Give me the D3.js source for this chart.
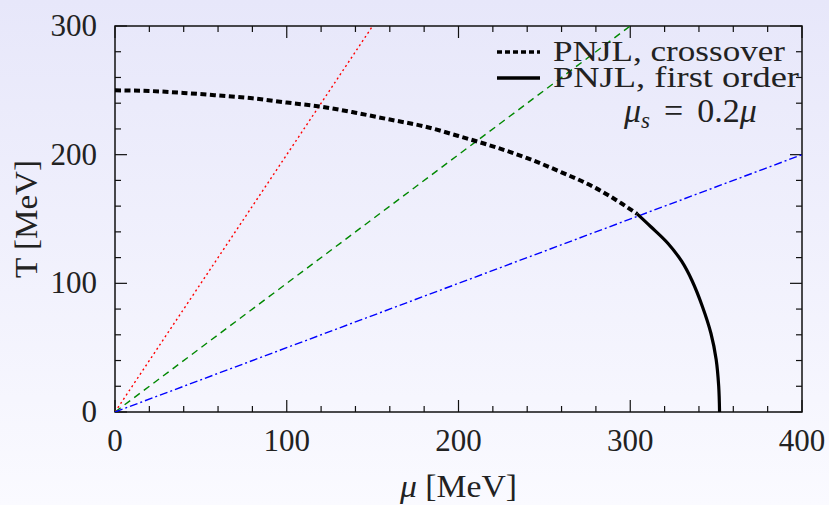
<!DOCTYPE html>
<html><head><meta charset="utf-8">
<script src="https://cdn.jsdelivr.net/npm/d3@7"></script>
<style>
html,body{margin:0;padding:0;}
svg{display:block;}
text{font-family:"Liberation Serif","DejaVu Serif",serif;fill:#222;}
</style></head>
<body>
<script>
// ---- data ----
const crossover = [[0,250],[20,249.5],[40,248],[60,246],[80,243.8],[100,240.5],[120,237.3],[140,232.6],[160,227.3],[180,222],[200,214.5],[220,206.5],[240,197.3],[260,186.3],[280,174],[295,162],[304,154]];
const firstOrder = [[304,154],[312,144],[322,131],[330,117],[336,102],[342,82],[347,61],[350,41],[351.5,20],[352,0]];
const redSlope = 2, greenSlope = 1, blueSlope = 0.5; // T = slope * mu
const xTicks = [0,100,200,300,400];
const yTicks = [0,100,200,300];
const legendLabels = ["PNJL, crossover","PNJL, first order"];

const W=829,H=505;
const m={l:115,r:27,t:26,b:93};
const svg=d3.select("body").append("svg").attr("width",W).attr("height",H);
const defs=svg.append("defs");
const g=defs.append("linearGradient").attr("id","bg").attr("x1",0).attr("y1",0).attr("x2",0).attr("y2",1);
g.append("stop").attr("offset","0%").attr("stop-color","#e7e7fa");
g.append("stop").attr("offset","100%").attr("stop-color","#fafaff");
svg.append("rect").attr("width",W).attr("height",H).attr("fill","url(#bg)");
defs.append("clipPath").attr("id","clip").append("rect")
  .attr("x",m.l).attr("y",m.t).attr("width",W-m.l-m.r).attr("height",H-m.t-m.b);

const x=d3.scaleLinear().domain([0,400]).range([m.l,W-m.r]);
const y=d3.scaleLinear().domain([0,300]).range([H-m.b,m.t]);

// ticks
const minorX=d3.range(0,401,20), minorY=d3.range(0,301,20);
const tk=svg.append("g").attr("stroke","#111").attr("stroke-width",1.2);
minorX.forEach(v=>{
  const L = v%100===0?12:6;
  tk.append("line").attr("x1",x(v)).attr("x2",x(v)).attr("y1",y(0)).attr("y2",y(0)-L);
  tk.append("line").attr("x1",x(v)).attr("x2",x(v)).attr("y1",y(300)).attr("y2",y(300)+L);
});
minorY.forEach(v=>{
  const L = v%100===0?12:6;
  tk.append("line").attr("y1",y(v)).attr("y2",y(v)).attr("x1",x(0)).attr("x2",x(0)+L);
  tk.append("line").attr("y1",y(v)).attr("y2",y(v)).attr("x1",x(400)).attr("x2",x(400)-L);
});
svg.append("rect").attr("x",m.l).attr("y",m.t).attr("width",W-m.l-m.r).attr("height",H-m.t-m.b)
  .attr("fill","none").attr("stroke","#111").attr("stroke-width",1.5);

// tick labels
svg.selectAll(".xl").data(xTicks).enter().append("text")
  .attr("x",d=>x(d)).attr("y",y(0)+39).attr("text-anchor","middle").attr("font-size",31)
  .attr("textLength",d=>String(d).length*15.5).attr("lengthAdjust","spacingAndGlyphs").text(d=>d);
svg.selectAll(".yl").data(yTicks).enter().append("text")
  .attr("x",x(0)-18).attr("y",d=>y(d)+10).attr("text-anchor","end").attr("font-size",31)
  .attr("textLength",d=>String(d).length*15.5).attr("lengthAdjust","spacingAndGlyphs").text(d=>d);

// axis titles
svg.append("text").attr("transform",`translate(37,${(y(0)+y(300))/2}) rotate(-90)`)
  .attr("text-anchor","middle").attr("font-size",31)
  .attr("textLength",118).attr("lengthAdjust","spacingAndGlyphs").text("T [MeV]");
const xt=svg.append("text").attr("x",(x(0)+x(400))/2).attr("y",497).attr("text-anchor","middle").attr("font-size",31)
  .attr("textLength",117).attr("lengthAdjust","spacingAndGlyphs");
xt.append("tspan").attr("font-style","italic").text("μ");
xt.append("tspan").text(" [MeV]");

// lines
const plot=svg.append("g").attr("clip-path","url(#clip)");
const line=d3.line().x(d=>x(d[0])).y(d=>y(d[1]));
const diag=s=>[[0,0],[400,400*s]];
plot.append("path").attr("d",line(diag(redSlope))).attr("fill","none").attr("stroke","#ff0000").attr("stroke-width",1.4).attr("stroke-dasharray","2,3");
plot.append("path").attr("d",line(diag(greenSlope))).attr("fill","none").attr("stroke","#008800").attr("stroke-width",1.4).attr("stroke-dasharray","7,5");
plot.append("path").attr("d",line(diag(blueSlope))).attr("fill","none").attr("stroke","#0000ff").attr("stroke-width",1.4).attr("stroke-dasharray","8,3,2,3");
const curve=d3.line().x(d=>x(d[0])).y(d=>y(d[1])).curve(d3.curveMonotoneX);
plot.append("path").attr("d",curve(crossover)).attr("fill","none").attr("stroke","#000").attr("stroke-width",4).attr("stroke-dasharray","6,3.5");
const fo=d3.line().x(d=>x(d[0])).y(d=>y(d[1])).curve(d3.curveCatmullRom);
plot.append("path").attr("d",fo(firstOrder)).attr("fill","none").attr("stroke","#000").attr("stroke-width",3.2);

// legend
const lg=svg.append("g");
lg.append("line").attr("x1",497).attr("x2",540).attr("y1",52).attr("y2",52).attr("stroke","#000").attr("stroke-width",3.5).attr("stroke-dasharray","5,3");
lg.append("line").attr("x1",497).attr("x2",540).attr("y1",78).attr("y2",78).attr("stroke","#000").attr("stroke-width",3.5);
lg.append("text").attr("x",553).attr("y",61).attr("font-size",29)
  .attr("textLength",232).attr("lengthAdjust","spacingAndGlyphs").text(legendLabels[0]);
lg.append("text").attr("x",553).attr("y",87).attr("font-size",29)
  .attr("textLength",246).attr("lengthAdjust","spacingAndGlyphs").text(legendLabels[1]);
const ms=lg.append("text").attr("x",624).attr("y",122).attr("font-size",34);
ms.append("tspan").attr("font-style","italic").text("μ");
ms.append("tspan").attr("font-style","italic").attr("font-size",23).attr("dy",6).text("s");
ms.append("tspan").attr("dy",-6).attr("dx",14).text("=");
ms.append("tspan").attr("dx",14).text("0.2");
ms.append("tspan").attr("font-style","italic").text("μ");
</script>
</body></html>
